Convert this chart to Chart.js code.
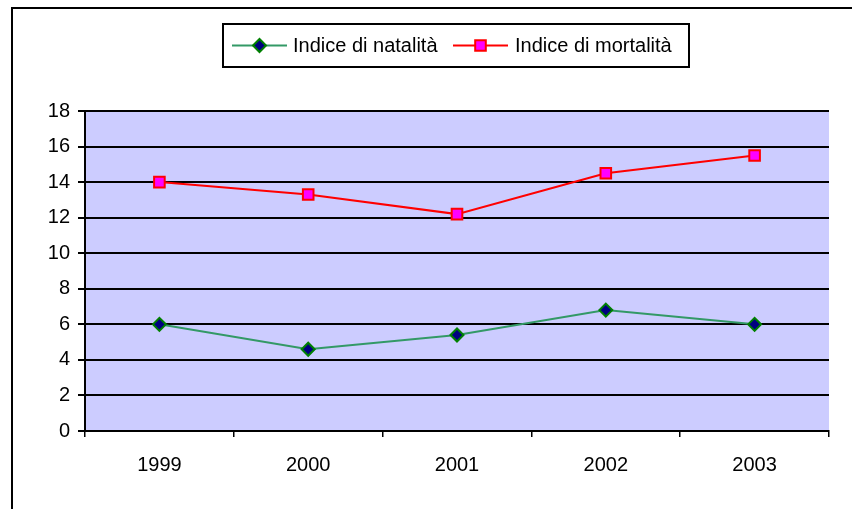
<!DOCTYPE html>
<html>
<head>
<meta charset="utf-8">
<script src="https://cdn.jsdelivr.net/npm/chart.js@4/dist/chart.umd.min.js"></script>
<style>
  html, body { margin: 0; padding: 0; background: #ffffff; }
  canvas { display: block; }
</style>
</head>
<body>
<canvas id="c" width="852" height="509"></canvas>
<script>
const years = ['1999', '2000', '2001', '2002', '2003'];
const natalita = [6.0, 4.6, 5.4, 6.8, 6.0];
const mortalita = [14.0, 13.3, 12.2, 14.5, 15.5];
const seriesNames = ['Indice di natalità', 'Indice di mortalità'];
const yMin = 0, yMax = 18, yStep = 2;

const FONT = "'Liberation Sans', Arial, sans-serif";

const framePlugin = {
  id: 'frame',
  beforeDraw(chart) {
    const ctx = chart.ctx;
    const a = chart.chartArea;
    ctx.save();
    ctx.fillStyle = '#ffffff';
    ctx.fillRect(0, 0, chart.width, chart.height);
    ctx.strokeStyle = '#000000';
    ctx.lineWidth = 2;
    ctx.strokeRect(12, 8, chart.width + 50, chart.height + 50);
    ctx.fillStyle = '#CCCCFF';
    ctx.fillRect(a.left, a.top, a.right - a.left, a.bottom - a.top);
    ctx.restore();
  },
  afterDraw(chart) {
    const ctx = chart.ctx;
    ctx.save();
    // legend box
    ctx.fillStyle = '#ffffff';
    ctx.strokeStyle = '#000000';
    ctx.lineWidth = 2;
    ctx.fillRect(223, 24, 466, 43);
    ctx.strokeRect(223, 24, 466, 43);
    const cy = 45.5;
    const items = [
      { x0: 232, x1: 287, tx: 293 },
      { x0: 453, x1: 508, tx: 515 }
    ];
    chart.data.datasets.forEach((ds, i) => {
      const it = items[i];
      ctx.strokeStyle = ds.borderColor;
      ctx.lineWidth = ds.borderWidth;
      ctx.beginPath();
      ctx.moveTo(it.x0, cy);
      ctx.lineTo(it.x1, cy);
      ctx.stroke();
      ctx.fillStyle = ds.pointBackgroundColor;
      ctx.strokeStyle = ds.pointBorderColor;
      ctx.lineWidth = ds.pointBorderWidth;
      Chart.helpers.drawPoint(ctx, {
        pointStyle: ds.pointStyle, radius: ds.pointRadius, rotation: 0, borderWidth: ds.pointBorderWidth
      }, (it.x0 + it.x1) / 2, cy);
      ctx.fillStyle = '#000000';
      ctx.font = '20px ' + FONT;
      ctx.textBaseline = 'middle';
      ctx.textAlign = 'left';
      ctx.fillText(ds.label, it.tx, cy + 1);
    });
    ctx.restore();
  }
};

new Chart(document.getElementById('c'), {
  type: 'line',
  data: {
    labels: years,
    datasets: [
      {
        label: seriesNames[0],
        data: natalita,
        borderColor: '#339966',
        borderWidth: 2,
        pointStyle: 'rectRot',
        pointRadius: 6.5,
        pointBackgroundColor: '#000080',
        pointBorderColor: '#008000',
        pointBorderWidth: 2,
        tension: 0
      },
      {
        label: seriesNames[1],
        data: mortalita,
        borderColor: '#FF0000',
        borderWidth: 2,
        pointStyle: 'rect',
        pointRadius: 7.5,
        pointBackgroundColor: '#FF00FF',
        pointBorderColor: '#FF0000',
        pointBorderWidth: 2,
        tension: 0
      }
    ]
  },
  options: {
    responsive: false,
    animation: false,
    devicePixelRatio: 1,
    layout: { padding: { top: 111, right: 23, left: 0, bottom: 0 } },
    plugins: {
      legend: { display: false },
      tooltip: { enabled: false }
    },
    scales: {
      x: {
        type: 'category',
        offset: true,
        grid: { offset: true, drawOnChartArea: false, drawTicks: true, tickLength: 6, color: '#000000', lineWidth: 1.5 },
        border: { color: '#000000', width: 2 },
        ticks: { color: '#000000', font: { family: FONT, size: 20 }, padding: 16, maxRotation: 0 },
        afterFit(scale) { scale.height = 78; }
      },
      y: {
        min: yMin,
        max: yMax,
        grid: { color: '#000000', lineWidth: 2, drawTicks: true, tickLength: 7 },
        border: { color: '#000000', width: 2 },
        ticks: { stepSize: yStep, color: '#000000', font: { family: FONT, size: 20 }, padding: 8 },
        afterFit(scale) { scale.width = 85; }
      }
    }
  },
  plugins: [framePlugin]
});
</script>
</body>
</html>
